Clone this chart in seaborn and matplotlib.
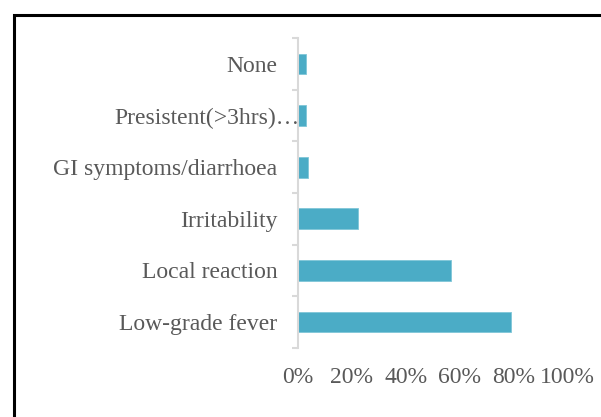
import matplotlib
matplotlib.use("Agg")
import matplotlib.pyplot as plt
import matplotlib.transforms as mtransforms
from matplotlib.patches import Rectangle
from matplotlib.ticker import FixedLocator, PercentFormatter
import seaborn as sns
import pandas as pd

# ---- data ----
symptoms = ["None", "Presistent(>3hrs)…", "GI symptoms/diarrhoea",
            "Irritability", "Local reaction", "Low-grade fever"]
percent = [2.8, 2.8, 3.7, 22.3, 57.0, 79.3]
x_ticks = [0, 20, 40, 60, 80, 100]

df = pd.DataFrame({"symptom": symptoms, "percent": percent})

sns.set_theme(style="white")
plt.rcParams["font.family"] = ["Liberation Serif", "DejaVu Serif"]

BAR = "#4BACC6"
TXT = "#595959"
GRID = "#D9D9D9"
FS = 17

fig = plt.figure(figsize=(6.01, 4.17), dpi=100)
ax = fig.add_axes([0.4958, 0.1662, 0.4476, 0.742])

sns.barplot(data=df, x="percent", y="symptom", order=symptoms,
            color=BAR, saturation=1, width=0.4, edgecolor="#7FC6D8",
            linewidth=0.6, ax=ax)

ax.set_xlim(0, 100)
ax.set_ylim(len(symptoms) - 0.5, -0.5)
ax.set_xticks(x_ticks)
ax.xaxis.set_major_formatter(PercentFormatter(decimals=0))
ax.set_xlabel("")
ax.set_ylabel("")

for side in ["top", "right", "bottom"]:
    ax.spines[side].set_visible(False)
ax.spines["left"].set_color(GRID)
ax.spines["left"].set_linewidth(1.5)

ax.tick_params(axis="x", length=0, pad=14, labelsize=FS, labelcolor=TXT)
ax.tick_params(axis="y", which="major", length=0, pad=15, labelsize=FS,
               labelcolor=TXT)
ax.yaxis.set_minor_locator(FixedLocator([i - 0.5 for i in range(len(symptoms) + 1)]))
ax.tick_params(axis="y", which="minor", left=True, length=4.3, width=1.5,
               color=GRID)

# truncated label in the original pokes past the others
lbl = ax.get_yticklabels()[1]
lbl.set_transform(lbl.get_transform() +
                  mtransforms.ScaledTranslation(0.22, 0, fig.dpi_scale_trans))

# chart frame, cut off at the right and bottom edges
fig.add_artist(Rectangle((13.5 / 601, -0.1), 1.2, (417 - 15.5) / 417 + 0.1,
                         transform=fig.transFigure, fill=False,
                         edgecolor="black", linewidth=2.2, clip_on=False))

fig.savefig("out.png", dpi=100)
